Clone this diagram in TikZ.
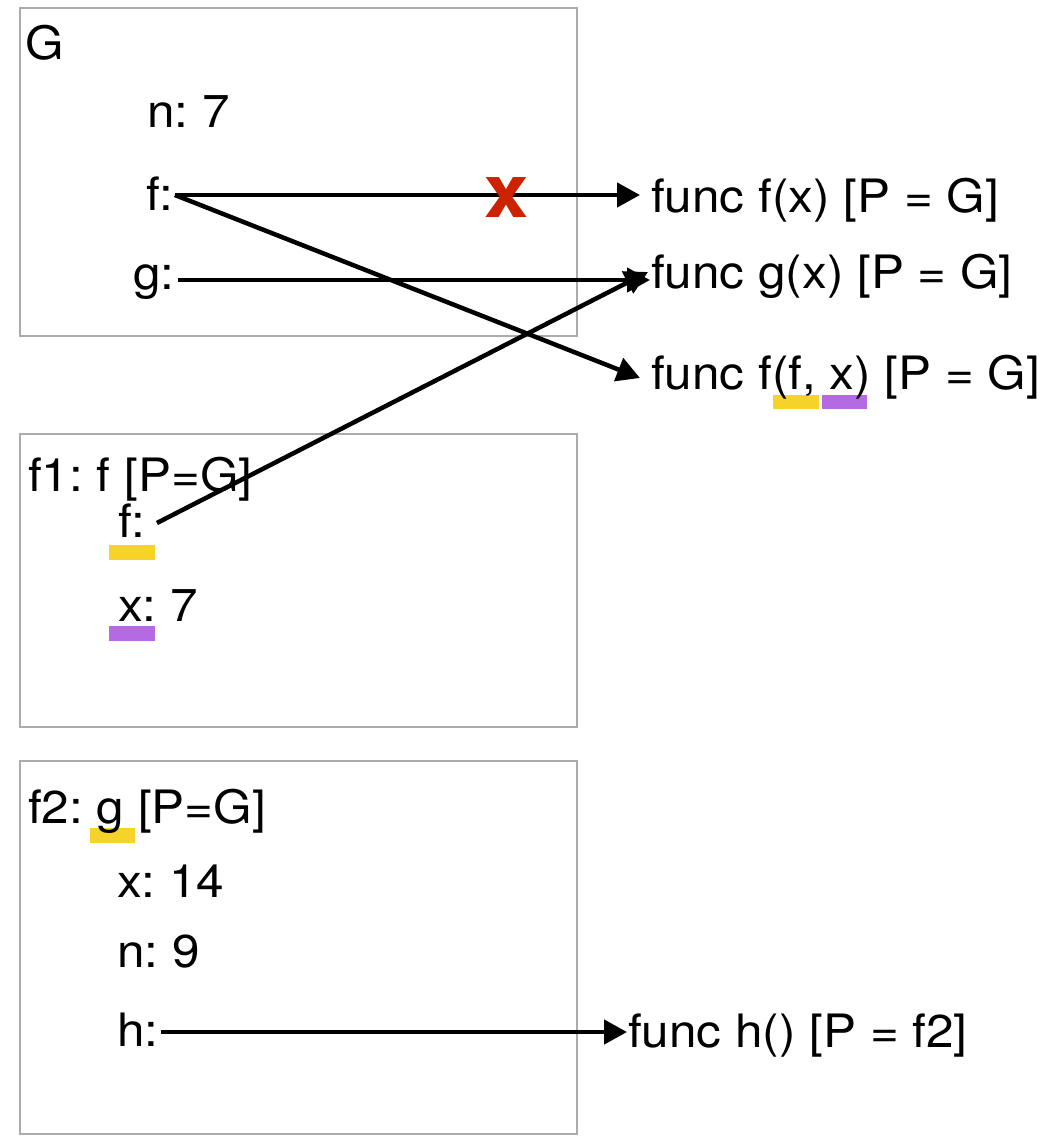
\documentclass[tikz,border=0pt]{standalone}
\usepackage{fontspec}
\setmainfont[FakeStretch=1.075]{TeX Gyre Heros}
\usetikzlibrary{arrows.meta}
\definecolor{boxgray}{HTML}{ABABAB}
\definecolor{hlyellow}{HTML}{F5D329}
\definecolor{hlpurple}{HTML}{B36AE2}
\definecolor{xred}{HTML}{CC2200}
\frenchspacing
\begin{document}
\begin{tikzpicture}[x=1pt,y=-1pt,
  lbl/.style={inner sep=0pt, anchor=base west, font=\fontsize{46}{50}\selectfont},
  frame/.style={draw=boxgray, line width=2pt},
  arr/.style={line width=4.5pt, -{Triangle[length=23pt,width=24pt]}},
  hly/.style={fill=hlyellow},
  hlp/.style={fill=hlpurple}]
\useasboundingbox[fill=white] (0,0) rectangle (1053,1137);
% frames
\draw[frame] (20,8) rectangle (577,336);
\draw[frame] (20,434) rectangle (577,727);
\draw[frame] (20,761) rectangle (577,1134);
% highlights
\fill[hly] (773,395) rectangle (819,409);
\fill[hlp] (822,395) rectangle (867,409);
\fill[hly] (109,545) rectangle (155,560);
\fill[hlp] (109,626) rectangle (155,641);
\fill[hly] (90,828) rectangle (135,843);
% G frame
\node[lbl] (Glab) at (25,60) {G};
\node[lbl] (nG) at (147,128) {n: 7};
\node[lbl] (fG) at (146,210) {f:};
\node[lbl] (gG) at (133,289) {g:};
% functions
\node[lbl] (ff) at (651,212) {func f(x) [P = G]};
\node[lbl] (fg) at (651,288) {func g(x) [P = G]};
\node[lbl] (ffx) at (651,389) {func f(f, x) [P = G]};
% f1 frame
\node[lbl] (f1lab) at (28,491) {f1: f [P=G]};
\node[lbl] (f1f) at (118,537) {f:};
\node[lbl] (f1x) at (118,621) {x: 7};
% f2 frame
\node[lbl] (f2lab) at (28,823) {f2: g [P=G]};
\node[lbl] (f2x) at (117,897) {x: 14};
\node[lbl] (f2n) at (117,967) {n: 9};
\node[lbl] (f2h) at (117,1046) {h:};
\node[lbl] (fh) at (628,1047) {func h() [P = f2]};
% arrows
\draw[arr] ([shift={(1,-15)}]fG.base east) -- ([shift={(-11,-17)}]ff.base west);
\draw[arr] ([shift={(1,-15)}]fG.base east) -- ([shift={(-11,-11)}]ffx.base west);
\draw[arr] ([shift={(3,-9)}]gG.base east) -- ([shift={(-1,-8)}]fg.base west);
\draw[arr] ([shift={(11,-14)}]f1f.base east) -- ([shift={(-3,-16)}]fg.base west);
\draw[arr] ([shift={(2,-14)}]f2h.base east) -- ([shift={(-1,-15)}]fh.base west);
% red cross mark
\node[inner sep=0pt, text=xred, font=\fontsize{74}{74}\bfseries\selectfont] (xmark) at (507,198) {x};
\end{tikzpicture}
\end{document}
